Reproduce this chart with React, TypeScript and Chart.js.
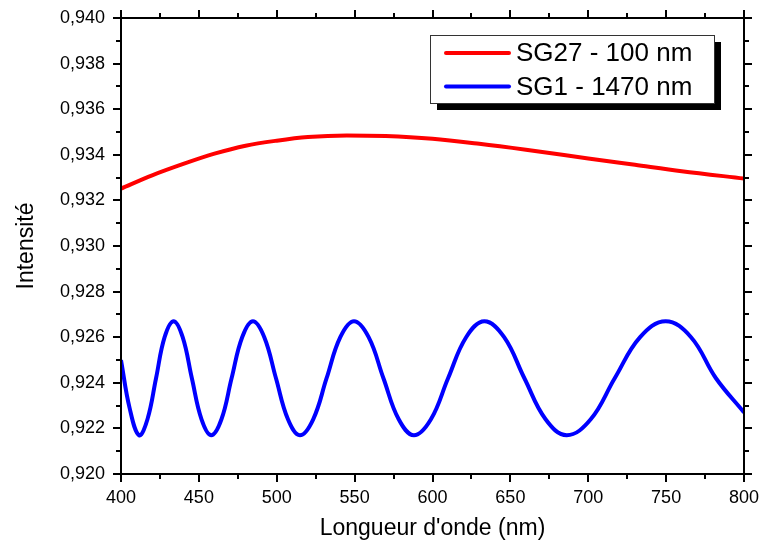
import React, { useEffect, useRef } from "react";
import { Chart, registerables } from "chart.js";

Chart.register(...registerables);

// SG1 - 1470 nm (blue) : wavelength (nm) and intensity
const blueWavelengths = [
  400, 405.5, 411.6, 417, 422.5, 428, 433.8, 439.6, 445.5, 451.7, 458, 464.5, 471, 477.8, 484.7, 492, 499.5,
  507.2, 514.9, 523.4, 532, 540.8, 549.6, 559, 568.5, 578.3, 588.1, 599, 610, 621.6, 633.3, 646, 659,
  672.6, 686.2, 701.6, 717, 733.3, 749.7, 766, 782, 800,
];
const blueValues = [
  0.9250, 0.9229, 0.9217, 0.9224, 0.9242, 0.9260, 0.9267, 0.9260, 0.9242, 0.9224, 0.9217, 0.9224, 0.9242, 0.9260, 0.9267, 0.9260, 0.9242,
  0.9224, 0.9217, 0.9224, 0.9242, 0.9260, 0.9267, 0.9260, 0.9242, 0.9224, 0.9217, 0.9224, 0.9242, 0.9260, 0.9267, 0.9260, 0.9242,
  0.9224, 0.9217, 0.9224, 0.9242, 0.9260, 0.9267, 0.9260, 0.9242, 0.9227,
];

// SG27 - 100 nm (red)
const redWavelengths = [400, 420, 440, 460, 480, 500, 520, 545, 570, 600, 630, 660, 700, 730, 760, 800];
const redValues = [0.93252, 0.93310, 0.93360, 0.93405, 0.93440, 0.93462, 0.93478, 0.93485, 0.93482, 0.93470, 0.93448, 0.93422, 0.93384, 0.93356, 0.93328, 0.93296];

const seriesLabels = ["SG27 - 100 nm", "SG1 - 1470 nm"];
const seriesColors = ["#ff0000", "#0000ff"];

const xTitle = "Longueur d'onde (nm)";
const yTitle = "Intensité";

const FONT = "'Liberation Sans', Arial, Helvetica, sans-serif";

const framePlugin = {
  id: "frameTicks",
  afterDraw(chart: any) {
    const { ctx, chartArea } = chart;
    const { left, right, top, bottom } = chartArea;
    const xs = chart.scales.x;
    const ys = chart.scales.y;
    ctx.save();
    ctx.strokeStyle = "#000";
    ctx.lineWidth = 2;
    ctx.strokeRect(left, top, right - left, bottom - top);
    const major = 8;
    const minor = 5;
    const xt = xs.ticks.map((t: any) => t.value);
    const xVals: [number, number][] = [];
    for (let i = 0; i < xt.length; i++) {
      xVals.push([xt[i], major]);
      if (i < xt.length - 1) xVals.push([(xt[i] + xt[i + 1]) / 2, minor]);
    }
    ctx.beginPath();
    for (const [v, len] of xVals) {
      const px = Math.round(xs.getPixelForValue(v));
      ctx.moveTo(px, bottom);
      ctx.lineTo(px, bottom + len);
      ctx.moveTo(px, top);
      ctx.lineTo(px, top - len);
    }
    const yt = ys.ticks.map((t: any) => t.value);
    const yVals: [number, number][] = [];
    for (let i = 0; i < yt.length; i++) {
      yVals.push([yt[i], major]);
      if (i < yt.length - 1) yVals.push([(yt[i] + yt[i + 1]) / 2, minor]);
    }
    for (const [v, len] of yVals) {
      const py = Math.round(ys.getPixelForValue(v));
      ctx.moveTo(left, py);
      ctx.lineTo(left - len, py);
      ctx.moveTo(right, py);
      ctx.lineTo(right + len, py);
    }
    ctx.stroke();

    // legend
    const bw = 284;
    const bh = 68;
    const bx = right - 30 - bw;
    const by = top + 17;
    ctx.fillStyle = "#000";
    ctx.fillRect(bx + 7, by + 7, bw, bh);
    ctx.fillStyle = "#fff";
    ctx.fillRect(bx, by, bw, bh);
    ctx.lineWidth = 1;
    ctx.strokeStyle = "#333";
    ctx.strokeRect(bx + 0.5, by + 0.5, bw, bh);
    ctx.font = "26px " + FONT;
    ctx.textBaseline = "middle";
    ctx.textAlign = "left";
    chart.data.datasets.forEach((ds: any, i: number) => {
      const ly = by + 18 + i * 33.5;
      ctx.strokeStyle = ds.borderColor;
      ctx.lineWidth = 4;
      ctx.lineCap = "round";
      ctx.beginPath();
      ctx.moveTo(bx + 16, ly);
      ctx.lineTo(bx + 79, ly);
      ctx.stroke();
      ctx.fillStyle = "#000";
      ctx.fillText(ds.label, bx + 86, ly + 1);
    });
    ctx.restore();
  },
};

export default function App() {
  const ref = useRef<HTMLCanvasElement>(null);
  useEffect(() => {
    if (!ref.current) return;
    Chart.defaults.font.family = FONT;
    Chart.defaults.color = "#000";
    const chart = new Chart(ref.current, {
      type: "line",
      data: {
        datasets: [
          {
            label: seriesLabels[0],
            data: redWavelengths.map((x, i) => ({ x, y: redValues[i] })),
            borderColor: seriesColors[0],
            borderWidth: 4,
            pointRadius: 0,
            cubicInterpolationMode: "monotone",
            fill: false,
          },
          {
            label: seriesLabels[1],
            data: blueWavelengths.map((x, i) => ({ x, y: blueValues[i] })),
            borderColor: seriesColors[1],
            borderWidth: 4,
            pointRadius: 0,
            tension: 0.4,
            fill: false,
          },
        ],
      },
      options: {
        responsive: false,
        animation: false,
        events: [],
        layout: { padding: { left: 0, top: 18, right: 16, bottom: 0 } },
        plugins: { legend: { display: false }, tooltip: { enabled: false } },
        scales: {
          x: {
            type: "linear",
            min: 400,
            max: 800,
            grid: { display: false, drawTicks: false },
            border: { display: false },
            ticks: { stepSize: 50, padding: 13, font: { size: 18 }, color: "#000", maxRotation: 0 },
            title: { display: true, text: xTitle, font: { size: 23 }, color: "#000", padding: { top: 0, bottom: 3 } },
            afterFit: (s: any) => {
              s.height = 71;
              s.paddingLeft = 0;
              s.paddingRight = 0;
            },
          },
          y: {
            type: "linear",
            min: 0.92,
            max: 0.94,
            grid: { display: false, drawTicks: false },
            border: { display: false },
            ticks: {
              stepSize: 0.002,
              padding: 16,
              font: { size: 18 },
              color: "#000",
              callback: (v: any) => Number(v).toFixed(3).replace(".", ","),
            },
            title: { display: true, text: yTitle, font: { size: 23 }, color: "#000", padding: { top: 13, bottom: 0 } },
            afterFit: (s: any) => {
              s.width = 121;
              s.paddingTop = 0;
              s.paddingBottom = 0;
            },
          },
        },
      },
      plugins: [framePlugin],
    } as any);
    return () => chart.destroy();
  }, []);
  return (
    <div style={{ position: "fixed", left: 0, top: 0, width: 760, height: 545, background: "#fff" }}>
      <canvas ref={ref} width={760} height={545} style={{ width: 760, height: 545 }} />
    </div>
  );
}
